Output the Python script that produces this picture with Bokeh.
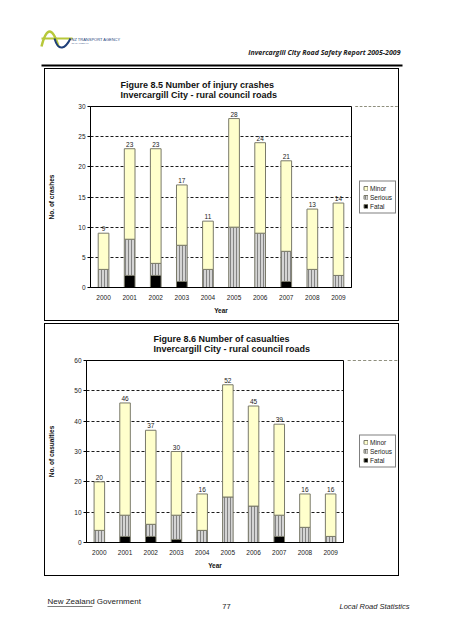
from bokeh.plotting import figure
from bokeh.layouts import column, row, Spacer
from bokeh.models import (ColumnDataSource, FactorRange, Range1d, FixedTicker, Legend,
                          LegendItem, Title)
from bokeh.transform import stack
from bokeh.core.properties import value
from bokeh.embed import file_html
from bokeh.resources import INLINE

# ---------------- data ----------------
years = ["2000", "2001", "2002", "2003", "2004", "2005", "2006", "2007", "2008", "2009"]

crash_fatal = [0, 2, 2, 1, 0, 0, 0, 1, 0, 0]
crash_serious = [3, 6, 2, 6, 3, 10, 9, 5, 3, 2]
crash_minor = [6, 15, 19, 10, 8, 18, 15, 15, 10, 12]
crash_total = [9, 23, 23, 17, 11, 28, 24, 21, 13, 14]
crash_ticks = [0, 5, 10, 15, 20, 25, 30]

cas_fatal = [0, 2, 2, 1, 0, 0, 0, 2, 0, 0]
cas_serious = [4, 7, 4, 8, 4, 15, 12, 7, 5, 2]
cas_minor = [16, 37, 31, 21, 12, 37, 33, 30, 11, 14]
cas_total = [20, 46, 37, 30, 16, 52, 45, 39, 16, 16]
cas_ticks = [0, 10, 20, 30, 40, 50, 60]

legend_labels = ["Minor", "Serious", "Fatal"]

FONT = "Liberation Sans"
MINOR_C = "#FFFFCC"
SERIOUS_C = "#D4D4D4"
FATAL_C = "#000000"
EDGE = "#7A7A6A"
STYLE_F = dict(fill_color=FATAL_C, line_color=EDGE, line_width=1)
STYLE_S = dict(fill_color=SERIOUS_C, line_color=EDGE, line_width=1, hatch_pattern="|",
               hatch_color="#6E6E6E", hatch_scale=3, hatch_weight=0.8)
STYLE_M = dict(fill_color=MINOR_C, line_color=EDGE, line_width=1)

BOX_W, BOX_H = 355, 253
IN_W, IN_H = BOX_W - 2, BOX_H - 2


def add_stacks(fig, src, w):
    r_f = fig.vbar(x="year", width=w, bottom=0, top="fatal", source=src, **STYLE_F)
    r_s = fig.vbar(x="year", width=w, bottom=stack("fatal"), top=stack("fatal", "serious"),
                   source=src, **STYLE_S)
    r_m = fig.vbar(x="year", width=w, bottom=stack("fatal", "serious"),
                   top=stack("fatal", "serious", "minor"), source=src, **STYLE_M)
    return r_f, r_s, r_m


def chart(title, ylabel, fatal, serious, minor, total, ticks, ymax,
          main_w, borders, title_offset, legend_margin, ylab_standoff):
    left, right, top, bottom = borders
    src = ColumnDataSource(dict(year=years, fatal=fatal, serious=serious,
                                minor=minor, total=total,
                                lab=[str(t) for t in total]))
    p = figure(x_range=FactorRange(*years, range_padding=0),
               y_range=Range1d(0, ymax),
               width=main_w, height=IN_H, output_backend="svg", toolbar_location=None,
               min_border_left=left, min_border_right=right,
               min_border_top=top, min_border_bottom=bottom)
    p.background_fill_color = "white"
    p.border_fill_color = "white"
    p.outline_line_color = "black"
    p.outline_line_width = 1

    add_stacks(p, src, 0.41)
    p.text(x="year", y="total", text="lab", source=src, text_align="center",
           text_baseline="bottom", y_offset=-2, text_font=value(FONT),
           text_font_size="6.5px", text_color="#222222")

    # axes
    p.yaxis.ticker = FixedTicker(ticks=ticks)
    p.ygrid.ticker = FixedTicker(ticks=ticks[:-1])
    p.xgrid.grid_line_color = None
    p.ygrid.grid_line_color = "black"
    p.ygrid.grid_line_dash = "3 2"
    p.ygrid.grid_line_width = 0.9
    for ax in (p.xaxis, p.yaxis):
        ax.axis_line_color = "black"
        ax.major_label_text_font = FONT
        ax.major_label_text_font_size = "6.5px"
        ax.major_label_text_color = "#222222"
        ax.axis_label_text_font = FONT
        ax.axis_label_text_font_size = "6.5px"
        ax.axis_label_text_font_style = "bold"
        ax.axis_label_text_color = "#111111"
        ax.minor_tick_line_color = None
    p.yaxis.major_tick_in = 0
    p.yaxis.major_tick_out = 3
    p.yaxis.major_label_standoff = 2
    p.yaxis.axis_label = ylabel
    p.yaxis.axis_label_standoff = ylab_standoff
    p.xaxis.major_tick_line_color = None
    p.xaxis.major_label_standoff = 1
    p.xaxis.axis_label = "Year"
    p.xaxis.axis_label_standoff = 4

    # two-line title
    t = Title(text=title, align="left", offset=title_offset, standoff=14,
              text_font=FONT, text_font_size="9px", text_font_style="bold",
              text_color="#111111", text_line_height=0.95)
    p.add_layout(t, "above")

    # legend lives in a narrow companion figure right of the plot area
    # (same data, y range chosen so the bars themselves are out of view)
    lf = figure(width=IN_W - main_w, height=IN_H, output_backend="svg",
                x_range=FactorRange(*years), y_range=Range1d(-1001, -1000),
                toolbar_location=None, min_border=0)
    lf.axis.visible = False
    lf.grid.visible = False
    lf.outline_line_color = None
    lf.background_fill_color = "white"
    lf.border_fill_color = "white"
    g_f, g_s, g_m = add_stacks(lf, src, 0.41)
    leg = Legend(items=[LegendItem(label=legend_labels[0], renderers=[g_m]),
                        LegendItem(label=legend_labels[1], renderers=[g_s]),
                        LegendItem(label=legend_labels[2], renderers=[g_f])],
                 location="center_left", margin=legend_margin, padding=3, spacing=2,
                 glyph_width=5, glyph_height=5, label_height=7, label_standoff=2,
                 label_text_font=FONT, label_text_font_size="6.5px",
                 label_text_color="#222222",
                 border_line_color="black", border_line_width=1,
                 background_fill_color="white", background_fill_alpha=1)
    lf.add_layout(leg)

    def vline():
        return Spacer(width=1, height=BOX_H, styles={"background-color": "#000"})

    def hline():
        return Spacer(width=IN_W, height=1, styles={"background-color": "#000"})

    return row(vline(), column(hline(), row(p, lf), hline()), vline())


c1 = chart("Figure 8.5 Number of injury crashes\nInvercargill City - rural council roads",
           "No. of crashes", crash_fatal, crash_serious, crash_minor, crash_total,
           crash_ticks, 30, 309, (44, 3, 37, 33), 30, 5, 20)
c2 = chart("Figure 8.6 Number of casualties\nInvercargill City - rural council roads",
           "No. of casualties", cas_fatal, cas_serious, cas_minor, cas_total,
           cas_ticks, 60, 301, (39, 3, 35, 33), 67, 13, 16)


def deco(height):
    d = figure(width=436, height=height, x_range=Range1d(0, 436),
               y_range=Range1d(height, 0), output_backend="svg",
               toolbar_location=None, min_border=0)
    d.axis.visible = False
    d.grid.visible = False
    d.outline_line_color = None
    d.background_fill_color = "white"
    d.border_fill_color = "white"
    return d


# header (page y 8..68)
hdr = deco(60)
hdr.bezier(x0=[33], y0=[38], x1=[50], y1=[38], cx0=[38], cy0=[18], cx1=[44], cy1=[18],
           line_color="#B7C83A", line_width=2.5)
hdr.line(x=[33, 64], y=[30, 30], line_color="#B7C83A", line_width=2)
hdr.bezier(x0=[46], y0=[30], x1=[62], y1=[30], cx0=[50], cy0=[44], cx1=[57], cy1=[40],
           line_color="#1F3F7A", line_width=2)
hdr.text(x=[63], y=[31], text=["NZ TRANSPORT AGENCY"], text_font=value(FONT),
         text_font_size="4px", text_color="#1F3F7A", text_baseline="middle")
hdr.text(x=[63], y=[35], text=["WAKA KOTAHI"], text_font=value(FONT),
         text_font_size="2.5px", text_color="#1F3F7A", text_baseline="middle")
hdr.text(x=[392], y=[43.5], text=["Invercargill City Road Safety Report 2005-2009"],
         text_font=value("Open Sans"), text_font_size="7px", text_font_style="bold italic",
         text_align="right", text_baseline="middle", text_color="#222222")
hdr.line(x=[33, 394], y=[57, 57], line_color="black", line_width=2)

# footer (page y 576..632)
ftr = deco(56)
ftr.text(x=[39], y=[25], text=["New Zealand Government"], text_font=value(FONT),
         text_font_size="8px", text_baseline="middle", text_color="#222222")
ftr.line(x=[39, 84], y=[30, 30], line_color="#444444", line_width=0.7)
ftr.text(x=[218], y=[30], text=["77"], text_font=value(FONT), text_font_size="7.5px",
         text_align="center", text_baseline="middle", text_color="#222222")
ftr.text(x=[401], y=[30], text=["Local Road Statistics"], text_font=value(FONT),
         text_font_size="7.5px", text_font_style="italic", text_align="right",
         text_baseline="middle", text_color="#222222")

body = column(Spacer(width=436, height=8),
              hdr,
              row(Spacer(width=36, height=BOX_H), c1),
              Spacer(width=436, height=2),
              row(Spacer(width=36, height=BOX_H), c2),
              ftr)
page = row(Spacer(width=8, height=632), body)
open("out.html", "w").write(file_html(page, INLINE))
